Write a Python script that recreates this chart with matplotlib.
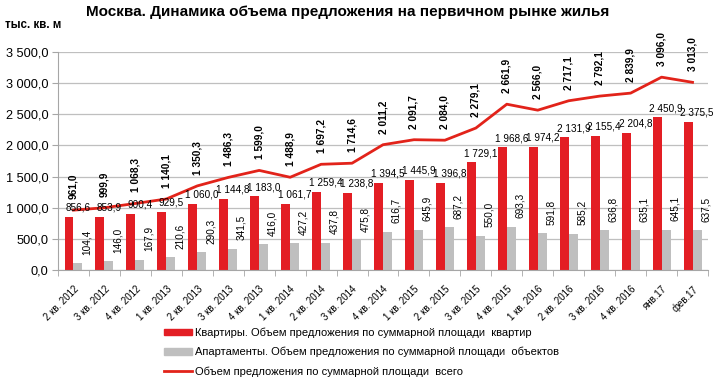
import matplotlib
matplotlib.use("Agg")
import matplotlib.pyplot as plt
import numpy as np
from matplotlib.patches import Patch
from matplotlib.lines import Line2D

categories = ["2 кв. 2012", "3 кв. 2012", "4 кв. 2012", "1 кв. 2013", "2 кв. 2013",
              "3 кв. 2013", "4 кв. 2013", "1 кв. 2014", "2 кв. 2014", "3 кв. 2014",
              "4 кв. 2014", "1 кв. 2015", "2 кв. 2015", "3 кв. 2015", "4 кв. 2015",
              "1 кв. 2016", "2 кв. 2016", "3 кв. 2016", "4 кв. 2016", "янв.17", "фев.17"]
flats = [856.6, 853.9, 900.4, 929.5, 1060.0, 1144.8, 1183.0, 1061.7, 1259.4, 1238.8,
         1394.5, 1445.9, 1396.8, 1729.1, 1968.6, 1974.2, 2131.9, 2155.4, 2204.8, 2450.9, 2375.5]
apartments = [104.4, 146.0, 167.9, 210.6, 290.3, 341.5, 416.0, 427.2, 437.8, 475.8,
              616.7, 645.9, 687.2, 550.0, 693.3, 591.8, 585.2, 636.8, 635.1, 645.1, 637.5]
total = [961.0, 999.9, 1068.3, 1140.1, 1350.3, 1486.3, 1599.0, 1488.9, 1697.2, 1714.6,
         2011.2, 2091.7, 2084.0, 2279.1, 2661.9, 2566.0, 2717.1, 2792.1, 2839.9, 3096.0, 3013.0]

title = "Москва. Динамика объема предложения на первичном рынке жилья"
unit = "тыс. кв. м"
legend_labels = ["Квартиры. Объем предложения по суммарной площади  квартир",
                 "Апартаменты. Объем предложения по суммарной площади  объектов",
                 "Объем предложения по суммарной площади  всего"]

RED = "#E31E24"
GRAY = "#BFBFBF"
LINE = "#E2231A"

def fmt(v):
    return f"{v:,.1f}".replace(",", " ").replace(".", ",")

plt.rcParams['font.family'] = ['Liberation Sans', 'DejaVu Sans']

fig = plt.figure(figsize=(7.17, 3.79), dpi=100)
ax = fig.add_axes([58/717, 1 - 270/379, (708-58)/717, (270-52)/379])

x = np.arange(len(categories))
w = 0.29
ax.bar(x - w/2, flats, width=w, color=RED, zorder=2)
ax.bar(x + w/2, apartments, width=w, color=GRAY, zorder=2)
ax.plot(x, total, color=LINE, lw=2, zorder=3)

ax.set_xlim(-0.5, len(categories) - 0.5)
ax.set_ylim(0, 3500)
ax.set_yticks(np.arange(0, 3501, 500))
ax.set_yticklabels([fmt(v) for v in np.arange(0, 3501, 500)], fontsize=9.2)
ax.yaxis.grid(True, color="#BFBFBF", lw=0.9, zorder=0)
ax.set_axisbelow(True)
for s in ["top", "right"]:
    ax.spines[s].set_visible(False)
for s in ["left", "bottom"]:
    ax.spines[s].set_color("#A6A6A6")
ax.tick_params(axis="y", length=4, color="#A6A6A6", pad=3)
ax.set_xticks(x)
ax.set_xticklabels(categories, rotation=45, ha="right", rotation_mode="anchor", fontsize=7)
ax.tick_params(axis="x", length=0, pad=10)
ax.set_xticks(np.arange(-0.5, len(categories), 1), minor=True)
ax.tick_params(axis="x", which="minor", length=4, color="#A6A6A6")

for i in range(len(categories)):
    ax.annotate(fmt(total[i]), (x[i], total[i]), xytext=(0, 8), textcoords="offset points",
                rotation=90, ha="center", va="bottom", fontsize=7.3, fontweight="bold", zorder=5)
    ax.annotate(fmt(flats[i]), (x[i] + 0.15, flats[i]), xytext=(0, 3), textcoords="offset points",
                ha="center", va="bottom", fontsize=7.2, zorder=5)
    ax.annotate(fmt(apartments[i]), (x[i] + 0.43, apartments[i]), xytext=(0, 6),
                textcoords="offset points", rotation=90, ha="center", va="bottom",
                fontsize=7.2, zorder=5)

fig.text(348/717, 1 - 12/379, title, ha="center", va="center", fontsize=11, fontweight="bold")
fig.text(5/717, 1 - 25/379, unit, ha="left", va="center", fontsize=8.3, fontweight="bold")

handles = [Patch(color=RED), Patch(color=GRAY), Line2D([0], [0], color=LINE, lw=2)]
leg = fig.legend(handles, legend_labels, loc="upper left", bbox_to_anchor=(158/717, 1 - 322/379),
                 frameon=False, fontsize=8, handlelength=2.6, handleheight=0.5,
                 handletextpad=0.2, labelspacing=0.8, borderpad=0)

fig.savefig("out.png", dpi=100)
